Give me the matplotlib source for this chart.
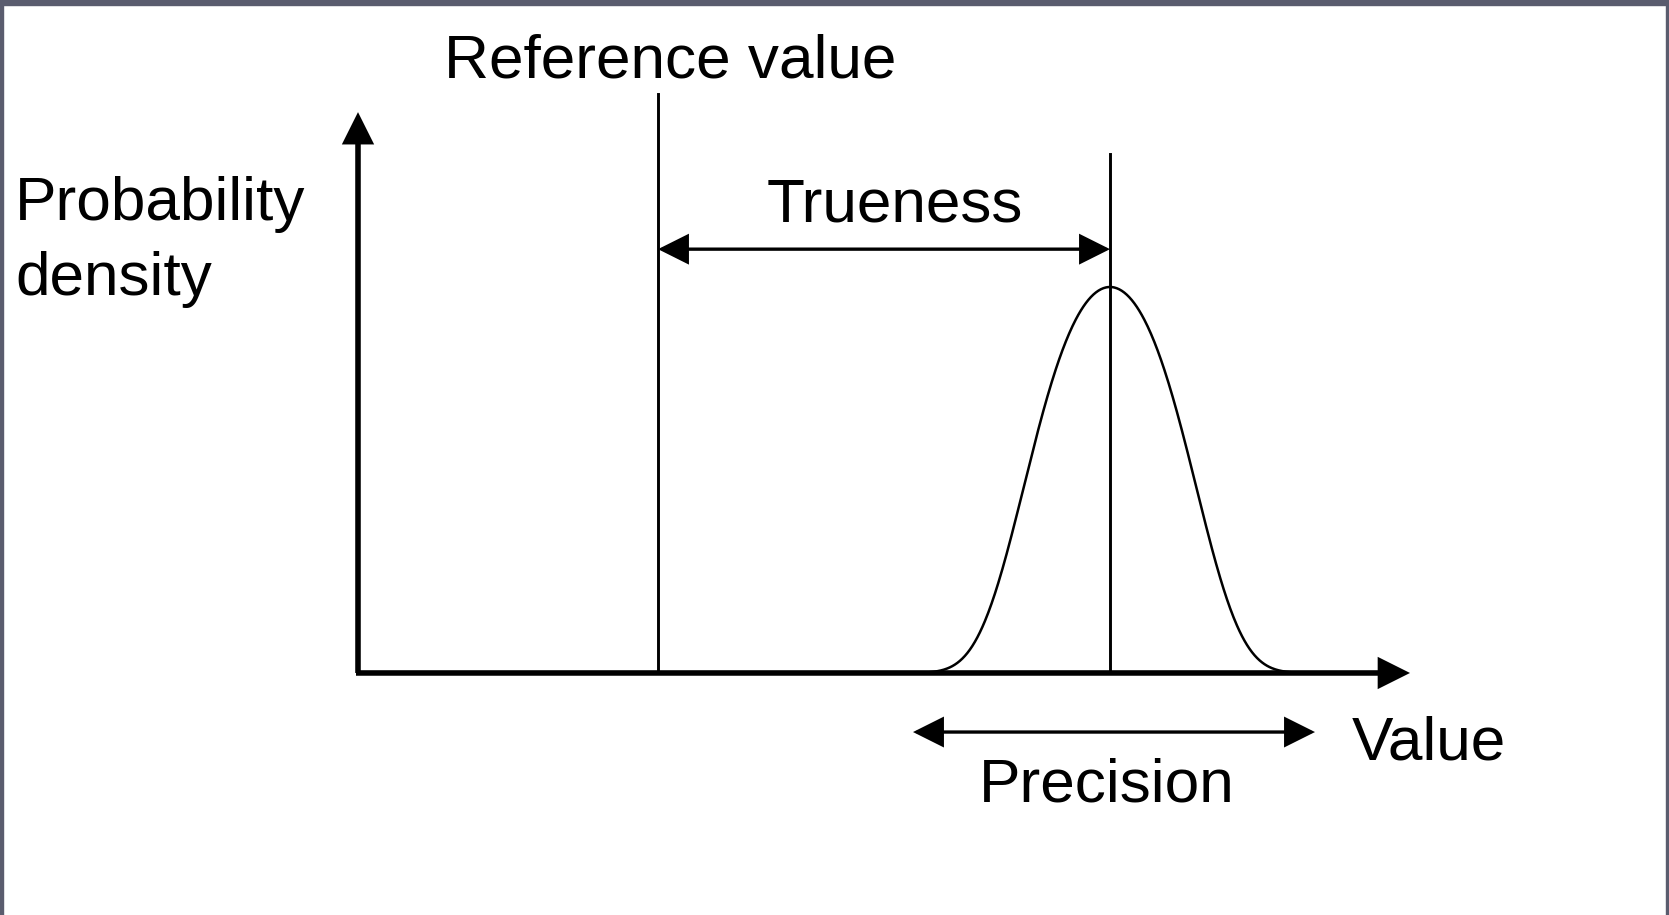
import matplotlib.pyplot as plt
import numpy as np
from matplotlib.patches import Rectangle

plt.rcParams['font.family'] = ['Liberation Sans', 'DejaVu Sans']

# valores do diagrama (unidades arbitrarias)
ref_value = 3.0      # valor de referencia
mean_value = 7.52    # media da distribuicao
sigma = 0.84         # largura do topo da curva
tail = 1.285         # termo de quarta ordem (caudas mais curtas)
peak = 1.0           # altura do pico
x_axis_end = 10.52
y_axis_end = 1.453
ref_line_top = 1.50
mean_line_top = 1.345
trueness_y = 1.098
precision_y = -0.153
precision_left = 5.55
precision_right = 9.57

labels = {
    'ref': 'Reference value',
    'true': 'Trueness',
    'ylab1': 'Probability',
    'ylab2': 'density',
    'xlab': 'Value',
    'prec': 'Precision',
}

fig = plt.figure(figsize=(16.69, 9.15), dpi=100)
ax = fig.add_axes([0, 0, 1, 1])
ax.set_xlim(-3.58, 13.11)
ax.set_ylim(-0.627, 1.7435)
ax.axis('off')

# moldura escura da janela
frame_col = '#5a5c6e'
fig.patches.append(Rectangle((0, 1 - 5/915), 1, 5/915, transform=fig.transFigure, color=frame_col))
fig.patches.append(Rectangle((0, 0), 3/1669, 1, transform=fig.transFigure, color=frame_col))
fig.patches.append(Rectangle((1 - 3/1669, 0), 3/1669, 1, transform=fig.transFigure, color=frame_col))

def arrow(x0, y0, x1, y1, lw, ms=48, both=False):
    style = '<|-|>' if both else '-|>'
    ax.annotate('', xy=(x1, y1), xytext=(x0, y0),
                arrowprops=dict(arrowstyle=style, mutation_scale=ms, lw=lw,
                                color='black', shrinkA=0, shrinkB=0,
                                joinstyle='miter', capstyle='butt'))

# eixos
arrow(-0.02, 0, x_axis_end, 0, lw=4.0, ms=42)
arrow(0, 0, 0, y_axis_end, lw=4.0, ms=42)

# curva de densidade
x = np.linspace(5.0, 10.0, 600)
d = x - mean_value
y = peak * np.exp(-d**2 / (2 * sigma**2) - (d / tail)**4)
ax.plot(x, y, color='black', lw=1.8)

# linhas verticais
ax.plot([ref_value, ref_value], [0, ref_line_top], color='black', lw=2.1)
ax.plot([mean_value, mean_value], [0, mean_line_top], color='black', lw=2.1)

# setas de veracidade e precisao
arrow(ref_value, trueness_y, mean_value, trueness_y, lw=2.4, ms=46, both=True)
arrow(precision_left, precision_y, precision_right, precision_y, lw=2.4, ms=46, both=True)

fs = 44.7
ax.text(3.12, 1.542, labels['ref'], fontsize=fs, ha='center', va='baseline')
ax.text(5.37, 1.169, labels['true'], fontsize=fs, ha='center', va='baseline')
ax.text(-3.43, 1.173, labels['ylab1'], fontsize=fs, ha='left', va='baseline')
ax.text(-3.43, 0.98, labels['ylab2'], fontsize=fs, ha='left', va='baseline')
ax.text(9.94, -0.225, labels['xlab'], fontsize=fs, ha='left', va='baseline')
ax.text(7.49, -0.334, labels['prec'], fontsize=fs, ha='center', va='baseline')

fig.savefig('out.png', dpi=100, facecolor='white')
